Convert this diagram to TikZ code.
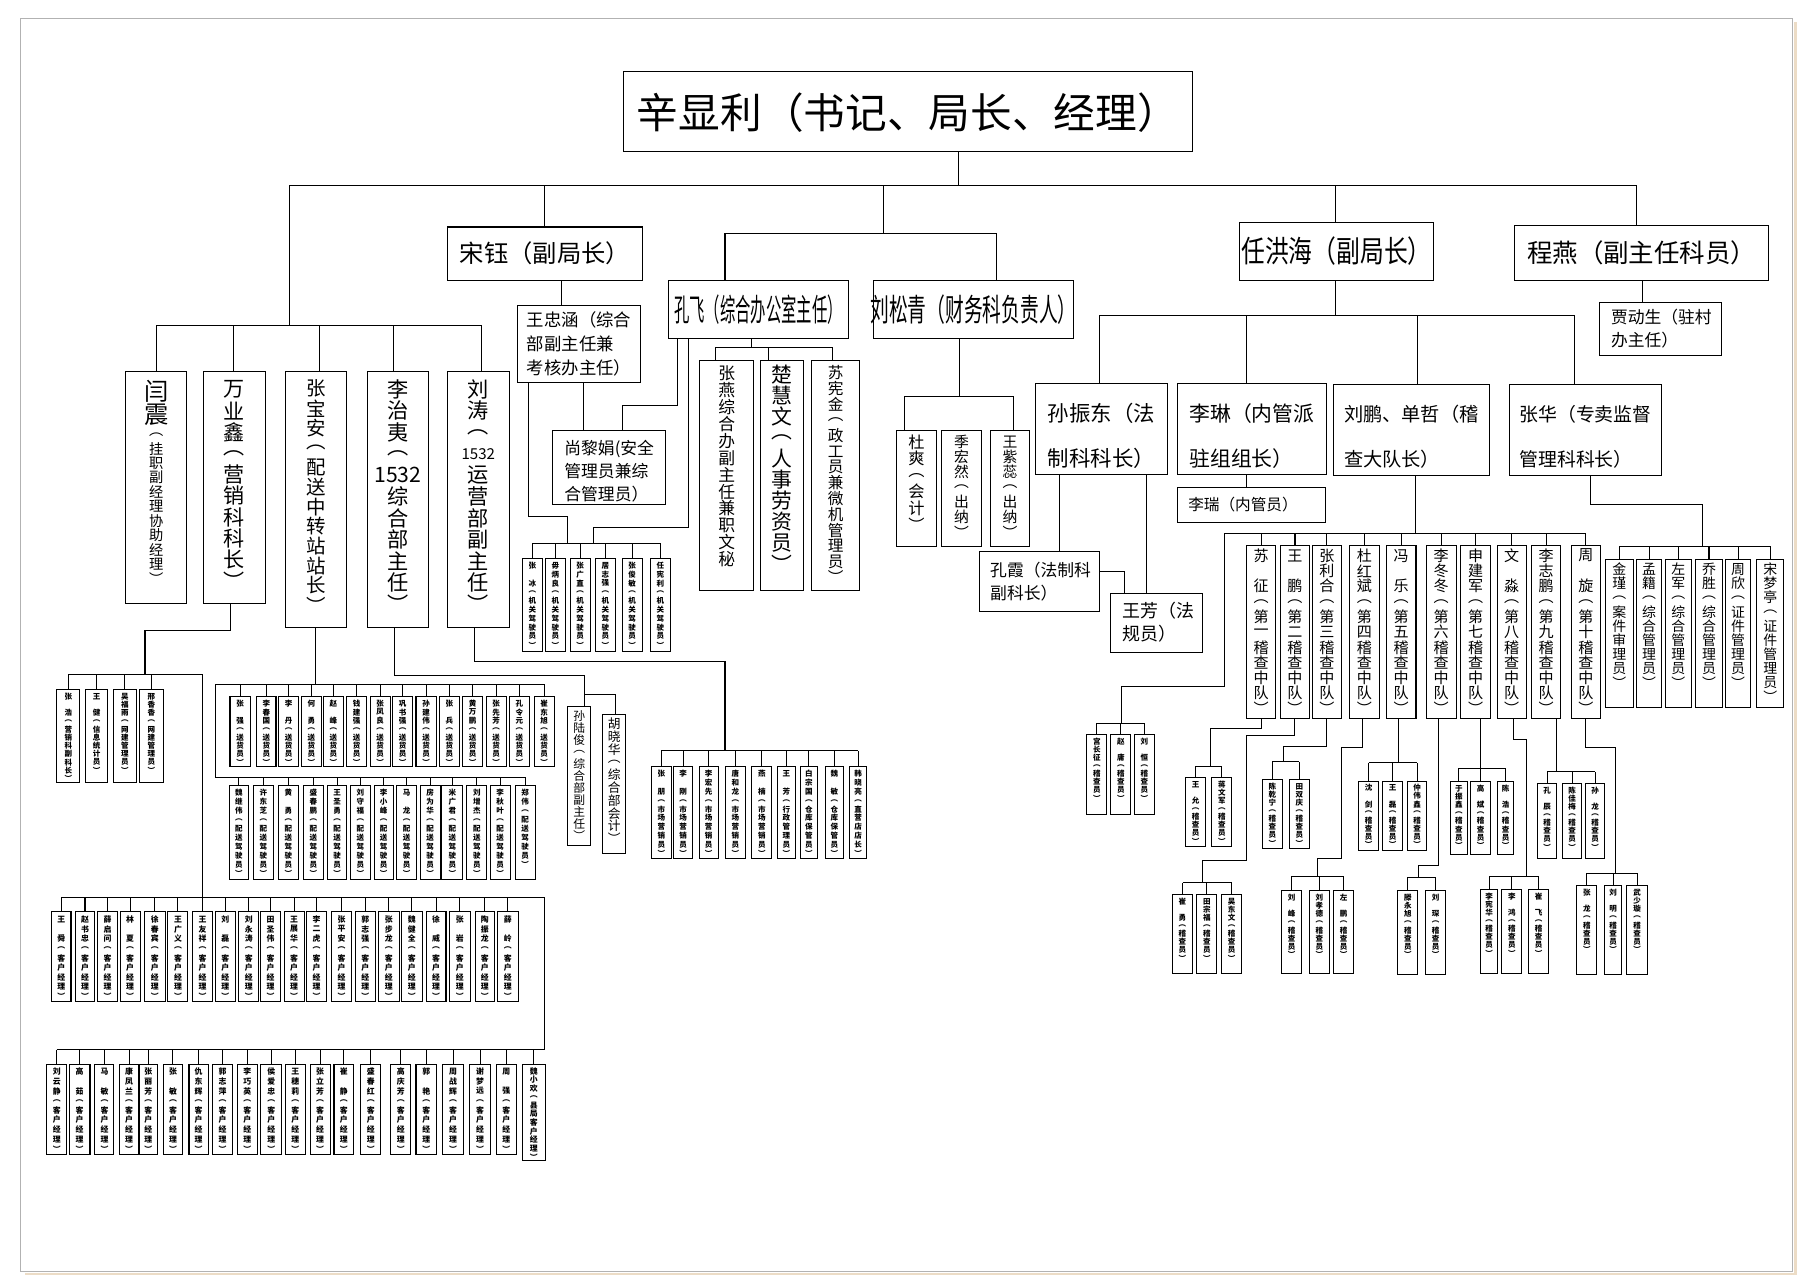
\documentclass[tikz,border=0pt]{standalone}
\usepackage{fontspec}
\setmainfont{Noto Sans CJK SC}
\usepackage{graphicx}
\makeatletter
\def\ovt@p{10pt}
\newcommand\ovp[1]{\def\ovt@p{#1}}
\newcommand\oVT[1]{\vbox{\offinterlineskip#1}}
\def\ovt@loop#1{\ifx\relax#1\else\vbox to \ovt@p{\vss\hbox to 0pt{\hss#1\hss}\vss}\expandafter\ovt@loop\fi}
\newcommand\ovt[1]{\ovt@loop#1\relax}
\newcommand\ovtx[1]{\edef\ovt@tmp{#1}\expandafter\ovt@loop\ovt@tmp\relax}
\makeatother
\newcommand\ofs[1]{\fontsize{#1}{#1}\selectfont}
\tikzset{
  ln/.style={line width=0.9pt},
  bx/.style={draw,line width=0.9pt,inner sep=0pt,outer sep=0pt},
  tx/.style={inner sep=0pt,outer sep=0pt}
}
% box: name, x1, y1, x2, y2
\newcommand\obx[5]{\node[bx,minimum width={(#4)-(#2)},minimum height={(#5)-(#3)}] (#1) at ({((#2)+(#4))/2},{((#3)+(#5))/2}) {};}
% vertical text box: name,x1,y1,x2,y2,fontcmds,pitch,text
\newcommand\otb[8]{\obx{#1}{#2}{#3}{#4}{#5}\node[tx,anchor=north] (t#1) at ([yshift=-2.5pt]#1.north) {\oVT{#6\ovp{#7pt}\ovtx{#8}}};}
% bus: y, first, last, list
\newcommand\obus[4]{\draw[ln] (#2.north |- 0,#1) -- (#3.north |- 0,#1); \foreach \c in {#4} {\draw[ln] (\c.north) -- (\c.north |- 0,#1);}}
\begin{document}
\begin{tikzpicture}[x=1pt,y=-1pt]
\useasboundingbox (0,0) rectangle (1568,1110);
\fill[white] (0,0) rectangle (1568,1110);
\draw[line width=2.5pt,color={rgb,255:red,236;green,220;blue,198}] (22,1100) -- (1550.5,1100) -- (1550.5,19);
\draw[line width=0.8pt,color=black!30] (18,16) rectangle (1548,1098);

% ---------- level 1 & 2 ----------
\obx{T}{538}{62}{1030}{131}
\node[tx] (tT) at (784,97) {\ofs{36}辛显利（书记、局长、经理）};
\obx{SY}{386}{196}{555}{242}
\node[tx] (tSY) at (470.5,219) {\ofs{21}宋钰（副局长）};
\obx{KF}{577}{242}{733}{292}
\node[tx] (tKF) at (655,267) {\scalebox{0.49}[1]{\ofs{27}孔飞（综合办公室主任）}};
\obx{LSQ}{754}{242}{927}{292}
\node[tx] (tLSQ) at (840.5,267) {\scalebox{0.6}[1]{\ofs{27}刘松青（财务科负责人）}};
\obx{RHH}{1070}{192}{1238}{242}
\node[tx] (tRHH) at (1154,217) {\scalebox{0.79}[1]{\ofs{26}任洪海（副局长）}};
\obx{CY}{1308}{195}{1527}{242}
\node[tx] (tCY) at (1417.5,218.5) {\ofs{22}程燕（副主任科员）};

\draw[ln] (T.south -| 828,0) -- (828,160);
\draw[ln] (250,281) -- (250,160) -- (1413,160) -- (CY.north -| 1413,0);
\draw[ln] (470,160) -- (SY.north -| 470,0);
\draw[ln] (763,160) -- (763,202);
\draw[ln] (KF.north -| 626,0) -- (626,202) -- (860,202) -- (LSQ.north -| 860,0);
\draw[ln] (1153,160) -- (RHH.north -| 1153,0);

% ---------- 宋钰 branch ----------
\obx{WZH}{447}{264}{553}{330}
\node[tx,align=left,font={\fontsize{15}{20.5}\selectfont}] (tWZH) at (500,297) {王忠涵（综合\\部副主任兼\\考核办主任）};
\obx{SLJ}{477}{372}{575}{436}
\node[tx,align=left,font={\fontsize{14.5}{20}\selectfont}] (tSLJ) at (526,407) {尚黎娟(安全\\管理员兼综\\合管理员）};
\draw[ln] (SY.south -| 484.4,0) -- (WZH.north -| 484.4,0);
\draw[ln] (WZH.south -| 503.5,0) -- (SLJ.north -| 503.5,0);
\draw[ln] (KF.south -| 585,0) -- (585,350) -- (537.6,350) -- (SLJ.north -| 537.6,0);

% 机关驾驶员
\foreach \n/\xA/\xB/\nm in {1/451.4/468/张　冰,2/470.9/488.2/毋炳良,3/492.2/509.8/张广直,4/514/531.4/居志强,5/537.1/554.7/张俊敏,6/561.6/578.8/任宪利}
  {\otb{jg\n}{\xA}{482.2}{\xB}{562.2}{\bfseries\ofs{6.5}}{7.6}{\nm︵机关驾驶员︶}}
\obus{469}{jg1}{jg6}{jg1,jg2,jg3,jg4,jg5,jg6}
\draw[ln] (WZH.south -| 456.6,0) -- (456.6,446) -- (489.8,446) -- (489.8,469);
\draw[ln] (KF.south -| 594.6,0) -- (594.6,455.6) -- (512.7,455.6) -- (512.7,469);

% 孔飞 children
\obx{ZY}{604}{311}{651}{510}
\node[tx,anchor=north] (tZY) at ([yshift=-4pt]ZY.north) {\oVT{\ofs{14.5}\ovp{14.6pt}\ovt{张燕综合办副主任兼职文秘}}};
\obx{CHW}{657}{311}{694}{510}
\node[tx,anchor=north] (tCHW) at ([yshift=-3pt]CHW.north) {\oVT{\ofs{18}\ovp{18.2pt}\ovt{楚慧文︵人事劳资员︶}}};
\obx{SXJ}{701}{311}{742}{510}
\node[tx,anchor=north] (tSXJ) at ([yshift=-4pt]SXJ.north) {\oVT{\ofs{13.5}\ovp{13.6pt}\ovt{苏宪金︵政工员兼微机管理员︶}}};
\draw[ln] (KF.south -| 649,0) -- (649,300);
\draw[ln] (617.8,300) -- (718.5,300);
\draw[ln] (617.8,300) -- (ZY.north -| 617.8,0);
\draw[ln] (663.5,300) -- (CHW.north -| 663.5,0);
\draw[ln] (718.5,300) -- (SXJ.north -| 718.5,0);

% 刘松青 children
\obx{DS}{774.4}{371.9}{808.4}{471.5}
\node[tx,anchor=north] (tDS) at ([yshift=-3pt]DS.north) {\oVT{\ofs{14}\ovp{14.2pt}\ovt{杜爽︵会计︶}}};
\obx{JHR}{813.2}{371.9}{847.2}{471.5}
\node[tx,anchor=north] (tJHR) at ([yshift=-3pt]JHR.north) {\oVT{\ofs{12.8}\ovp{13pt}\ovt{季宏然︵出纳︶}}};
\obx{WZR}{855.4}{371.9}{888.9}{471.5}
\node[tx,anchor=north] (tWZR) at ([yshift=-3pt]WZR.north) {\oVT{\ofs{12.8}\ovp{13pt}\ovt{王紫蕊︵出纳︶}}};
\draw[ln] (LSQ.south -| 828.8,0) -- (828.8,342);
\draw[ln] (DS.north -| 781.3,0) -- (781.3,342) -- (874.8,342) -- (WZR.north -| 874.8,0);

% ---------- left group ----------
\obx{YZ}{108.6}{321}{161.4}{521}
\node[tx,anchor=north] (tYZ) at ([yshift=-6pt]YZ.north) {\oVT{\ofs{21}\ovp{21pt}\ovt{闫震}\ofs{12.3}\ovp{12.4pt}\ovt{︵挂职副经理协助经理︶}}};
\obx{WYX}{176}{321}{229}{521}
\node[tx,anchor=north] (tWYX) at ([yshift=-6pt]WYX.north) {\oVT{\ofs{18.2}\ovp{18.4pt}\ovt{万业鑫︵营销科科长︶}}};
\obx{ZBA}{246.6}{321}{299.4}{542}
\node[tx,anchor=north] (tZBA) at ([yshift=-6pt]ZBA.north) {\oVT{\ofs{16.8}\ovp{17pt}\ovt{张宝安︵配送中转站站长︶}}};
\obx{LZY}{317}{321}{370}{542}
\node[tx,anchor=north] (tLZY) at ([yshift=-6pt]LZY.north) {\oVT{\ofs{18.3}\ovp{18.5pt}\ovt{李治夷︵{1532}综合部主任︶}}};
\obx{LT}{386}{321}{440}{542}
\node[tx,anchor=north] (tLT) at ([yshift=-6pt]LT.north) {\oVT{\ofs{18.3}\ovp{18.5pt}\ovt{刘涛︵}\ofs{13}\ovt{{1532}}\ofs{18.3}\ovt{运营部副主任︶}}};
\draw[ln] (135,281) -- (416,281);
\foreach \n/\x in {YZ/135,WYX/202,ZBA/276,LZY/340,LT/416} {\draw[ln] (\x,281) -- (\n.north -| \x,0);}

% 万业鑫 subtree
\foreach \n/\xA/\xB/\nm/\rl in {1/49/69/张　浩/︵营销科副科长︶,2/74/93/王　健/︵信息统计员︶,3/97.8/118/吴福雨/︵网建管理员︶,4/120.3/141/邢香香/︵网建管理员︶}
  {\otb{yx\n}{\xA}{595.3}{\xB}{675.3}{\bfseries\ofs{6.5}}{7.1}{\nm\rl}}
\draw[ln] (WYX.south -| 199,0) -- (199,544) -- (125.2,544) -- (125.2,582.6);
\draw[ln] (yx1.north |- 0,582.6) -- (174.7,582.6) -- (174.7,774.9);
\foreach \i in {1,...,4} {\draw[ln] (yx\i.north) -- (yx\i.north |- 0,582.6);}

\foreach \n/\xA/\xB/\nm in {1/44.6/61.3/王　舜,2/64.8/82/赵书忠,3/84/101.6/薛启问,4/103.9/120.9/林　夏,5/124.9/142.5/徐春宾,6/145/162.3/王广义,7/166.4/183.4/王友祥,8/186.2/203/刘　磊,9/206.1/223.4/刘永涛,10/225.1/242/田圣伟,11/245.5/262.5/王展华,12/264.5/282.1/李二虎,13/286.1/303.7/张平安,14/306.8/324.1/郭志强,15/327/344.6/张步龙,16/346.9/364.4/魏健全,17/367.9/385.1/徐　威,18/388/405.9/张　岩,19/410.2/427.2/陶振龙,20/429.5/447.6/薛　岭}
  {\otb{ka\n}{\xA}{787.3}{\xB}{865}{\bfseries\ofs{6.8}}{8.3}{\nm︵客户经理︶}}
\draw[ln] (ka1.north |- 0,774.9) -- (470,774.9) -- (470,906.5);
\foreach \i in {1,...,20} {\draw[ln] (ka\i.north) -- (ka\i.north |- 0,774.9);}

\foreach \n/\xA/\xB/\nm in {1/40.3/57.6/刘云静,2/59.8/77.7/高　茹,3/82/98.4/马　敏,4/103/119.8/康凤兰,5/120.3/135.8/张丽芳,6/141/157.7/张　敏,7/163.2/179.9/仇东辉,8/183.3/200.9/郭志萍,9/204.9/222.2/李巧英,10/225.1/243.2/侯爱忠,11/246.7/263.4/王穗莉,12/267.7/285/张立芳,13/288.4/305.1/崔　静,14/311.5/328.7/盛春红,15/337.4/354.7/高庆芳,16/359.2/377.1/郭　艳,17/382.3/400.1/周战辉,18/405.3/423.7/谢梦远,19/428.9/445.6/周　强}
  {\otb{kb\n}{\xA}{918.8}{\xB}{996.5}{\bfseries\ofs{6.8}}{8.3}{\nm︵客户经理︶}}
\otb{kb20}{451}{918.8}{470.6}{1001.7}{\bfseries\ofs{6.8}}{7.4}{魏小欢︵县局客户经理︶}
\draw[ln] (kb1.north |- 0,906.5) -- (470,906.5);
\foreach \i in {1,...,20} {\draw[ln] (kb\i.north) -- (kb\i.north |- 0,906.5);}

% 张宝安 subtree
\foreach \n/\xA/\xB/\nm in {1/198.6/215.9/张　强,2/221.6/238.3/李春国,3/240.6/257.9/李　丹,4/260.2/277.5/何　勇,5/279.2/296.5/赵　峰,6/299.4/316.6/钱建强,7/319.5/336.8/张凤良,8/339.1/356.4/巩书强,9/359.2/376.5/孙建伟,10/379.4/396.6/张　兵,11/399.5/416.8/黄万鹏,12/419.7/437/张先芳,13/439.8/457.1/孔令元,14/461.1/478.4/崔东旭}
  {\otb{sh\n}{\xA}{601.6}{\xB}{662}{\bfseries\ofs{6.5}}{7.2}{\nm︵送货员︶}}
\foreach \n/\xA/\xB/\nm in {1/198/214.4/魏继伟,2/218.8/236/许东芝,3/240.4/257.6/黄　勇,4/262/279.2/盛春鹏,5/282.7/299.4/王圣勇,6/302.8/319.5/刘守福,7/323/339.6/李小峰,8/342.5/359.8/马　龙,9/362.7/380/房为华,10/381.4/399.6/米广君,11/403/420.3/刘增杰,12/423.2/440.4/李秋叶,13/444.7/462/郑伟}
  {\otb{ps\n}{\xA}{677.9}{\xB}{759.1}{\bfseries\ofs{6.5}}{7.8}{\nm︵配送驾驶员︶}}
\draw[ln] (ZBA.south -| 272.6,0) -- (272.6,590.7);
\draw[ln] (185.7,671.3) -- (185.7,590.7) -- (sh14.north |- 0,590.7);
\draw[ln] (185.7,671.3) -- (ps13.north |- 0,671.3);
\foreach \i in {1,...,14} {\draw[ln] (sh\i.north) -- (sh\i.north |- 0,590.7);}
\foreach \i in {1,...,13} {\draw[ln] (ps\i.north) -- (ps\i.north |- 0,671.3);}

% 李治夷 subtree
\obx{SLU}{490.2}{610.2}{510.1}{730.3}
\node[tx,anchor=north] (tSLU) at ([yshift=-3pt]SLU.north) {\oVT{\ofs{10.2}\ovp{10.3pt}\ovt{孙陆俊︵综合部副主任︶}}};
\obx{HXH}{520.4}{616.6}{540.3}{736.9}
\node[tx,anchor=north] (tHXH) at ([yshift=-3pt]HXH.north) {\oVT{\ofs{11}\ovp{11pt}\ovt{胡晓华︵综合部会计︶}}};
\draw[ln] (LZY.south -| 340.6,0) -- (340.6,582.9) -- (504.6,582.9) -- (SLU.north -| 504.6,0);
\draw[ln] (504.6,599.3) -- (531.7,599.3) -- (HXH.north -| 531.7,0);

% 刘涛 subtree
\foreach \n/\xA/\xB/\nm/\rl in {1/562.8/579.4/张　朋/︵市场营销员︶,2/581.5/598.2/李　刚/︵市场营销员︶,3/603.6/620.3/李宏先/︵市场营销员︶,4/626.7/643.3/唐和龙/︵市场营销员︶,5/649.1/666.4/燕　楠/︵市场营销员︶,6/671.3/686.5/王　芳/︵行政管理员︶,7/690.8/706.1/白宗国/︵仓库保管员︶,8/712.7/728.2/魏　敏/︵仓库保管员︶,9/733.4/748.4/韩晓亮/︵直营店店长︶}
  {\otb{sc\n}{\xA}{662}{\xB}{741.2}{\bfseries\ofs{6.5}}{7.6}{\nm\rl}}
\draw[ln] (LT.south -| 410,0) -- (410,571.4) -- (626,571.4) -- (626,648.2);
\obus{648.2}{sc1}{sc9}{sc1,sc2,sc3,sc4,sc5,sc6,sc7,sc8,sc9}

% ---------- 程燕 ----------
\obx{JDS}{1381}{261}{1486}{307}
\node[tx,anchor=west,align=left,font={\fontsize{14.5}{20}\selectfont}] (tJDS) at (1391,284) {贾动生（驻村\\办主任）};
\draw[ln] (CY.south -| 1418,0) -- (JDS.north -| 1418,0);

% ---------- 任洪海 branch ----------
\obx{SZD}{894}{331}{1008}{410}
\node[tx,align=left,font={\fontsize{18.5}{39}\selectfont}] (tSZD) at (951,376.5) {孙振东（法\\制科科长）};
\obx{LL}{1016.7}{331}{1145.2}{409.6}
\node[tx,align=left,font={\fontsize{18}{39}\selectfont}] (tLL) at (1081,376.5) {李琳（内管派\\驻组组长）};
\obx{LP}{1151.5}{331.9}{1285.8}{410.8}
\node[tx,align=left,font={\fontsize{16.6}{39}\selectfont}] (tLP) at (1218.6,377) {刘鹏、单哲（稽\\查大队长）};
\obx{ZH}{1303.6}{331.9}{1434.5}{410.8}
\node[tx,align=left,font={\fontsize{16.3}{39}\selectfont}] (tZH) at (1369,377) {张华（专卖监督\\管理科科长）};
\obx{LR}{1016.7}{420.8}{1144.2}{451}
\node[tx,anchor=west] (tLR) at (1026,436) {\ofs{13.5}李瑞（内管员）};
\obx{KX}{845.7}{476.4}{949}{527.6}
\node[tx,anchor=west,align=left,font={\fontsize{14.5}{20}\selectfont}] (tKX) at (855,502) {孔霞（法制科\\副科长）};
\obx{WF}{959}{512.4}{1038.2}{563.3}
\node[tx,anchor=west,align=left,font={\fontsize{15.5}{20}\selectfont}] (tWF) at (969,537.5) {王芳（法\\规员）};

\draw[ln] (RHH.south -| 1153,0) -- (1153,272);
\draw[ln] (949.4,272) -- (1359.8,272);
\draw[ln] (949.4,272) -- (SZD.north -| 949.4,0);
\draw[ln] (1076.3,272) -- (LL.north -| 1076.3,0);
\draw[ln] (1224.2,272) -- (LP.north -| 1224.2,0);
\draw[ln] (1359.8,272) -- (ZH.north -| 1359.8,0);
\draw[ln] (LL.south -| 1076.3,0) -- (LR.north -| 1076.3,0);
\draw[ln] (SZD.south -| 915,0) -- (KX.north -| 915,0);
\draw[ln] (SZD.south -| 989.6,0) -- (WF.north -| 989.6,0);
\draw[ln] (KX.east |- 0,493.7) -- (970.9,493.7) -- (WF.north -| 970.9,0);

% 稽查中队
\foreach \n/\xA/\xB/\nm/\rl in {1/1076/1101.7/苏　征/︵第一稽查中队︶,2/1105.7/1130.6/王　鹏/︵第二稽查中队︶,3/1133.4/1158/张利合/︵第三稽查中队︶,4/1165.2/1191/杜红斌/︵第四稽查中队︶,5/1196.9/1222.6/冯　乐/︵第五稽查中队︶,6/1231.3/1257.5/李冬冬/︵第六稽查中队︶,7/1261.1/1287.3/申建军/︵第七稽查中队︶,8/1292.8/1317.8/文　淼/︵第八稽查中队︶,9/1322.5/1347.6/李志鹏/︵第九稽查中队︶,10/1356.6/1382/周　旋/︵第十稽查中队︶}
  {\otb{zd\n}{\xA}{470.6}{\xB}{620.5}{\ofs{13}}{13.2}{\nm\rl}}
\draw[ln] (LP.south -| 1221.8,0) -- (1221.8,461);
\draw[ln] (968,624.6) -- (968,592.4) -- (1057.3,592.4) -- (1057.3,461) -- (zd10.north |- 0,461);
\foreach \i in {1,...,10} {\draw[ln] (zd\i.north) -- (zd\i.north |- 0,461);}

% 稽查员
\foreach \n/\xA/\xB/\yA/\yB/\nm in {g1a/1023.9/1040.6/671.3/730.6/王　允,g1b/1046.3/1063.6/671.3/730.6/蒋文军,g2a/1012.4/1029.6/772.3/840.5/崔　勇,g2b/1033.4/1050.7/772.3/840.5/田宗福,g2c/1054.4/1072.3/772.3/840.5/吴东文,g3a/1090.4/1107/673/732.6/陈乾宁,g3b/1113.4/1130.6/673/732.6/田双庆,g4a/1106.8/1123.5/769.2/840.5/刘　峰,g4b/1130.6/1147.9/769.2/840.5/刘孝德,g4c/1151.4/1168.7/769.2/840.5/左　鹏,g5a/1173/1190.3/674.4/734/沈　剑,g5b/1193.7/1211/674.4/734/王　磊,g5c/1215.3/1232/674.4/734/仲伟鑫,g6a/1207/1224/769.2/841.4/滕永旭,g6b/1230.6/1248.4/769.2/841.4/刘　琛,g7a/1252.2/1267.1/675/737.5/于振鑫,g7b/1269.4/1287.3/675/737.5/高　斌,g7c/1293/1306.8/675/737.5/陈　浩,g8a/1278.6/1293/768/840.5/李宪华,g8b/1296.8/1314.1/768/840.5/李　鸿,g8c/1319.8/1337/768/840.5/崔　飞,g9a/1327.5/1344.3/676.4/741.2/孔　辰,g9b/1349.1/1365.9/676.4/741.2/陈佳梅,g9c/1369.3/1385.4/676.4/741.2/孙　龙,g10a/1361.5/1378.8/764.8/841/张　龙,g10b/1385.4/1400.4/764.8/841/刘　明,g10c/1404.7/1422.6/764.8/841/武少璇,gca/938.4/955.7/634.1/703/宫长征,gcb/959.1/976.4/634.1/703/赵　庸,gcc/979.6/996.8/634.1/703/刘　恒}
  {\otb{\n}{\xA}{\yA}{\xB}{\yB}{\bfseries\ofs{6.5}}{7.0}{\nm︵稽查员︶}}
\obus{624.6}{gca}{gcc}{gca,gcb,gcc}
\draw[ln] (zd1.south) -- (zd1.south |- 0,629) -- (1045.5,629) -- (1045.5,661.5);
\obus{661.5}{g1a}{g1b}{g1a,g1b}
\draw[ln] (zd2.south -| 1117.4,0) -- (1117.4,634.7) -- (1076,634.7) -- (1076,742.7) -- (1038.3,742.7) -- (1038.3,762.2);
\obus{762.2}{g2a}{g2c}{g2a,g2b,g2c}
\draw[ln] (zd3.south -| 1145,0) -- (1145,644.8) -- (1108.3,644.8) -- (1108.3,657.7);
\obus{657.7}{g3a}{g3b}{g3a,g3b}
\draw[ln] (zd4.south -| 1176.8,0) -- (1176.8,645) -- (1158.6,645) -- (1158.6,741.2) -- (1137.6,741.2) -- (1137.6,756.5);
\obus{756.5}{g4a}{g4c}{g4a,g4b,g4c}
\draw[ln] (zd5.south -| 1207.5,0) -- (1207.5,658.6);
\obus{658.6}{g5a}{g5c}{g5a,g5b,g5c}
\draw[ln] (zd6.south -| 1242,0) -- (1242,747.5) -- (1224.8,747.5) -- (1224.8,757.6);
\obus{757.6}{g6a}{g6b}{g6a,g6b}
\draw[ln] (zd7.south -| 1278,0) -- (1278,663.5);
\obus{663.5}{g7a}{g7c}{g7a,g7b,g7c}
\draw[ln] (zd8.south -| 1306.8,0) -- (1306.8,638.4) -- (1317.8,638.4) -- (1317.8,756.5);
\obus{756.5}{g8a}{g8c}{g8a,g8b,g8c}
\draw[ln] (zd9.south -| 1344.3,0) -- (1344.3,666.4);
\obus{666.4}{g9a}{g9c}{g9a,g9b,g9c}
\draw[ln] (zd10.south -| 1369.3,0) -- (1369.3,645.6) -- (1394.6,645.6) -- (1394.6,754.2);
\obus{754.2}{g10a}{g10c}{g10a,g10b,g10c}

% 张华 children
\foreach \n/\xA/\xB/\nm/\rl in {1/1386/1410.2/金瑾/︵案件审理员︶,2/1412.9/1434.8/孟籍/︵综合管理员︶,3/1437.9/1460.5/左军/︵综合管理员︶,4/1463.7/1487.5/乔胜/︵综合管理员︶,5/1490.2/1511.3/周欣/︵证件管理员︶,6/1517/1540/宋梦亭/︵证件管理员︶}
  {\otb{zh\n}{\xA}{483}{\xB}{611}{\ofs{12}}{12.2}{\nm\rl}}
\draw[ln] (ZH.south -| 1373,0) -- (1373,435.5) -- (1469.9,435.5) -- (1469.9,471.5);
\obus{471.5}{zh1}{zh6}{zh1,zh2,zh3,zh4,zh5,zh6}
\end{tikzpicture}
\end{document}
